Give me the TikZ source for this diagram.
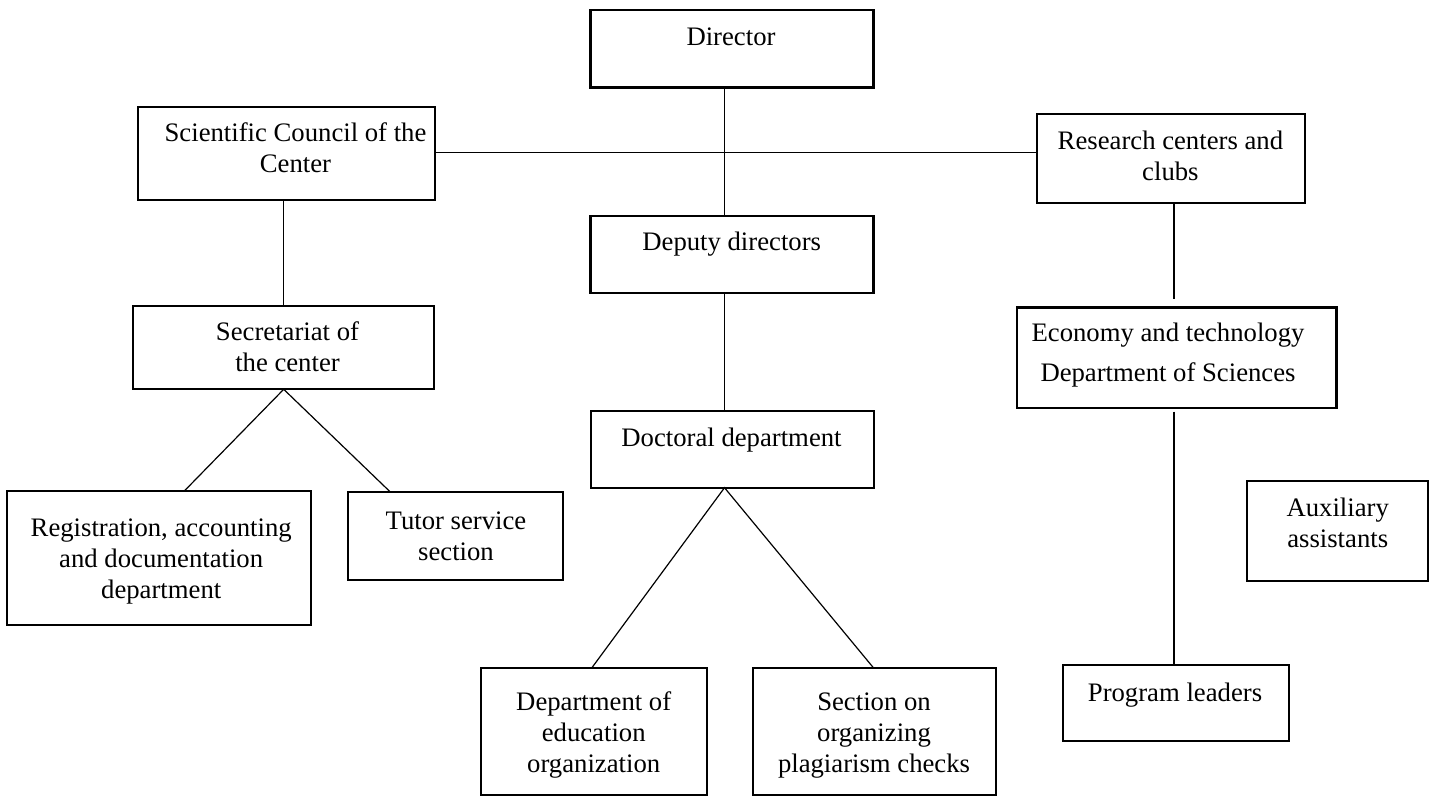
\documentclass[tikz,border=0pt]{standalone}
\usepackage{fontspec}
\setmainfont{Liberation Serif}
\begin{document}
\begin{tikzpicture}[x=0.5pt,y=-0.5pt,
  box/.style={draw, line width=1.1pt, inner sep=0pt, outer sep=0pt},
  link/.style={line width=0.6pt},
  txt/.style={inner sep=0pt, outer sep=0pt, align=center, anchor=base, font=\fontsize{13.35}{15.5}\selectfont},
  txtwide/.style={txt, font=\fontsize{13.35}{20}\selectfont}
]
\useasboundingbox (0,0) rectangle (1438,797);
% boxes
\node[box, minimum width=141.5pt, minimum height=38.75pt] (dir) at (732,48.75) {};
\node[box, minimum width=148.5pt, minimum height=46.5pt] (sci) at (286.5,153.5) {};
\node[box, minimum width=134.15pt, minimum height=44.65pt] (res) at (1170.85,158.65) {};
\node[box, minimum width=141.5pt, minimum height=38.8pt] (dep) at (732,254.5) {};
\node[box, minimum width=150.8pt, minimum height=41.65pt] (sec) at (283.5,347.65) {};
\node[box, minimum width=159.9pt, minimum height=50.4pt] (eco) at (1176.6,357.9) {};
\node[box, minimum width=141.65pt, minimum height=38.35pt] (doc) at (732.35,449.35) {};
\node[box, minimum width=151.85pt, minimum height=67.15pt] (reg) at (159.15,558.15) {};
\node[box, minimum width=107.5pt, minimum height=44.15pt] (tut) at (455.8,535.85) {};
\node[box, minimum width=90.5pt, minimum height=49.7pt] (aux) at (1337.8,531) {};
\node[box, minimum width=113.3pt, minimum height=63.5pt] (edu) at (594,731.5) {};
\node[box, minimum width=121.5pt, minimum height=63.5pt] (plag) at (874.2,731.5) {};
\node[box, minimum width=113pt, minimum height=37.85pt] (prog) at (1176.3,702.85) {};
% texts (anchor at baseline)
\node[txt] (tDir) at (731,45.7) {Director};
\node[txt] (tSci) at (295.5,172.7) {Scientific Council of the\\Center};
\node[txt] (tRes) at (1170.4,180) {Research centers and\\clubs};
\node[txt] (tDep) at (731.7,250.7) {Deputy directors};
\node[txt] (tSec) at (287.5,371) {Secretariat of\\the center};
\node[txtwide] (tEco) at (1168,381.7) {Economy and technology\\Department of Sciences};
\node[txt] (tDoc) at (731.5,446.7) {Doctoral department};
\node[txt] (tReg) at (161.2,598.3) {Registration, accounting\\and documentation\\department};
\node[txt] (tTut) at (456,560.7) {Tutor service\\section};
\node[txt] (tAux) at (1337.7,547.3) {Auxiliary\\assistants};
\node[txt] (tEdu) at (593.7,772.7) {Department of\\education\\organization};
\node[txt] (tPlag) at (874,772.7) {Section on\\organizing\\plagiarism checks};
\node[txt] (tProg) at (1175,701.7) {Program leaders};
% connector guide coordinates
\coordinate (vA) at (724.5,0);
\coordinate (hL) at (0,152.3);
\coordinate (vS) at (283.7,0);
\coordinate (regTop) at (184.3,0);
\coordinate (tutTop) at (390,0);
\coordinate (eduTop) at (591.7,0);
\coordinate (plagTop) at (873.6,0);
\coordinate (vR) at (1174,0);
\coordinate (ecoGap) at (1174,299.4);
\coordinate (ecoGapB) at (1174,411.7);
% connectors
\draw[link] (dir.south -| vA) -- (dep.north -| vA);
\draw[link] (sci.east |- hL) -- (res.west |- hL);
\draw[link] (sci.south -| vS) -- (sec.north -| vS);
\draw[link] (dep.south -| vA) -- (doc.north -| vA);
\draw[link] (reg.north -| regTop) -- (sec.south -| vS) -- (tut.north -| tutTop);
\draw[link] (edu.north -| eduTop) -- (doc.south -| vA) -- (plag.north -| plagTop);
\draw[link] (res.south -| vR) -- (ecoGap);
\draw[link] (ecoGapB) -- (prog.north -| vR);
\end{tikzpicture}
\end{document}
